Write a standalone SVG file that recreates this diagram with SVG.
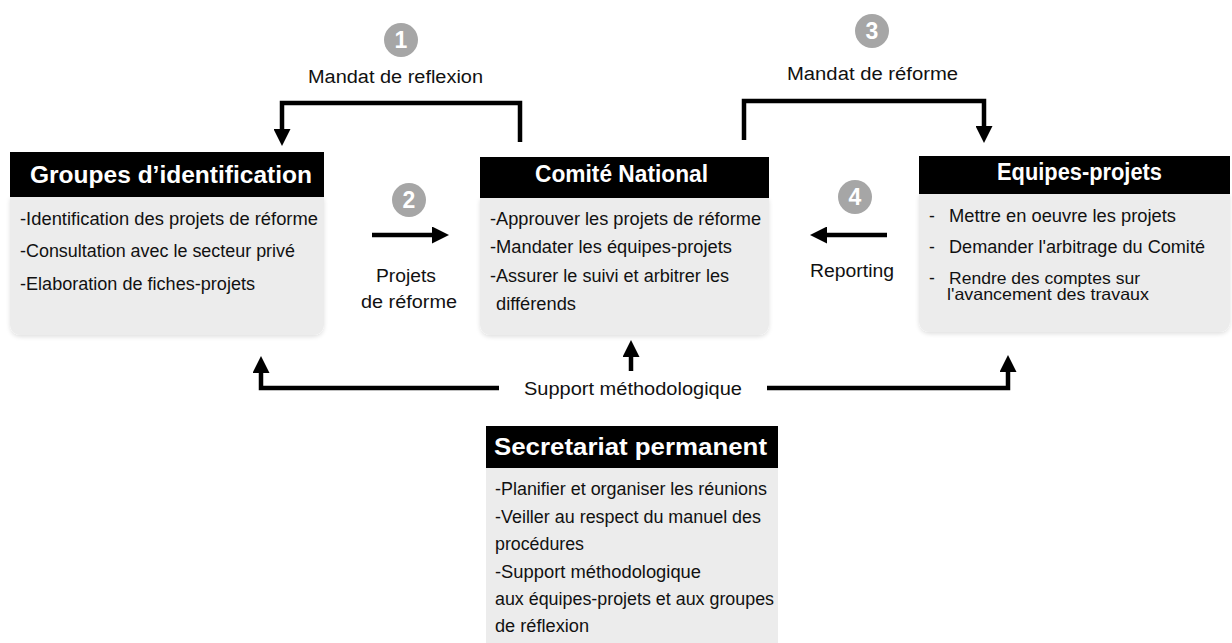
<svg xmlns="http://www.w3.org/2000/svg" width="1232" height="643" viewBox="0 0 1232 643">
<style>
  .hdr { fill: #000; }
  .body { fill: #ececec; }
  .htxt { font-family: "Liberation Sans", Arial, sans-serif; font-weight: bold; fill: #fff; font-size: 23px; }
  .btxt { font-family: "Liberation Sans", Arial, sans-serif; fill: #111; font-size: 17.5px; }
  .tight { font-size: 16.5px; }
  .lbl { font-family: "Liberation Sans", Arial, sans-serif; fill: #111; font-size: 18px; }
  .num { font-family: "Liberation Sans", Arial, sans-serif; font-weight: bold; fill: #fff; font-size: 23px; }
  .circ { fill: #a6a6a6; }
  .conn { fill: none; stroke: #000; stroke-width: 4.5; }
</style>
<defs>
  <marker id="ah" markerUnits="userSpaceOnUse" markerWidth="17" markerHeight="17" viewBox="0 0 17 17" refX="2" refY="8.5" orient="auto">
    <path d="M0,0 L17,8.5 L0,17 z" fill="#000"/>
  </marker>
  <filter id="sh" x="-5%" y="-5%" width="110%" height="115%">
    <feDropShadow dx="0" dy="2" stdDeviation="2" flood-color="#000" flood-opacity="0.12"/>
  </filter>
</defs>
<rect width="1232" height="643" fill="#fff"/>

<g id="groupes">
  <path class="body" filter="url(#sh)" d="M10,197 H324 V323 Q324,335 312,335 H22 Q10,335 10,323 Z"/>
  <rect class="hdr" x="10" y="152" width="314" height="45"/>
  <text class="htxt" x="30" y="183" textLength="282" lengthAdjust="spacingAndGlyphs">Groupes d’identification</text>
  <text class="btxt" x="20" y="225" textLength="298" lengthAdjust="spacingAndGlyphs">-Identification des projets de réforme</text>
  <text class="btxt" x="20" y="257" textLength="275" lengthAdjust="spacingAndGlyphs">-Consultation avec le secteur privé</text>
  <text class="btxt" x="20" y="290" textLength="235" lengthAdjust="spacingAndGlyphs">-Elaboration de fiches-projets</text>
</g>

<g id="comite">
  <path class="body" filter="url(#sh)" d="M480,198 H769 V323 Q769,335 757,335 H492 Q480,335 480,323 Z"/>
  <rect class="hdr" x="480" y="157" width="289" height="41"/>
  <text class="htxt" x="535" y="182" textLength="173" lengthAdjust="spacingAndGlyphs">Comité National</text>
  <text class="btxt" x="490" y="225" textLength="271" lengthAdjust="spacingAndGlyphs">-Approuver les projets de réforme</text>
  <text class="btxt" x="490" y="253" textLength="242" lengthAdjust="spacingAndGlyphs">-Mandater les équipes-projets</text>
  <text class="btxt" x="490" y="282" textLength="239" lengthAdjust="spacingAndGlyphs">-Assurer le suivi et arbitrer les</text>
  <text class="btxt" x="496" y="310" textLength="80" lengthAdjust="spacingAndGlyphs">différends</text>
</g>

<g id="equipes">
  <path class="body" filter="url(#sh)" d="M919,194 H1230 V320 Q1230,332 1218,332 H931 Q919,332 919,320 Z"/>
  <rect class="hdr" x="919" y="156" width="311" height="38"/>
  <text class="htxt" x="997" y="180" textLength="165" lengthAdjust="spacingAndGlyphs">Equipes-projets</text>
  <text class="btxt" x="929" y="222">-</text>
  <text class="btxt" x="949" y="222" textLength="227" lengthAdjust="spacingAndGlyphs">Mettre en oeuvre les projets</text>
  <text class="btxt" x="929" y="253">-</text>
  <text class="btxt" x="949" y="253" textLength="256" lengthAdjust="spacingAndGlyphs">Demander l'arbitrage du Comité</text>
  <text class="btxt" x="929" y="284">-</text>
  <text class="btxt tight" x="949" y="284" textLength="191" lengthAdjust="spacingAndGlyphs">Rendre des comptes sur</text>
  <text class="btxt tight" x="947" y="300" textLength="202" lengthAdjust="spacingAndGlyphs">l'avancement des travaux</text>
</g>

<g id="secretariat">
  <rect class="body" x="486" y="468" width="292" height="180"/>
  <rect class="hdr" x="486" y="426" width="292" height="42"/>
  <text class="htxt" x="494" y="455" textLength="273" lengthAdjust="spacingAndGlyphs">Secretariat permanent</text>
  <text class="btxt" x="495" y="495" textLength="272" lengthAdjust="spacingAndGlyphs">-Planifier et organiser les réunions</text>
  <text class="btxt" x="495" y="523" textLength="266" lengthAdjust="spacingAndGlyphs">-Veiller au respect du manuel des</text>
  <text class="btxt" x="495" y="550" textLength="89" lengthAdjust="spacingAndGlyphs">procédures</text>
  <text class="btxt" x="495" y="578" textLength="206" lengthAdjust="spacingAndGlyphs">-Support méthodologique</text>
  <text class="btxt" x="495" y="605" textLength="279" lengthAdjust="spacingAndGlyphs">aux équipes-projets et aux groupes</text>
  <text class="btxt" x="495" y="632" textLength="94" lengthAdjust="spacingAndGlyphs">de réflexion</text>
</g>

<g id="connectors">
  <path class="conn" d="M520,142 V103 H282 V131" marker-end="url(#ah)"/>
  <path class="conn" d="M744,140 V101 H984 V128" marker-end="url(#ah)"/>
  <path class="conn" d="M372,235 H434" marker-end="url(#ah)"/>
  <path class="conn" d="M887,235 H825" marker-end="url(#ah)"/>
  <path class="conn" d="M499,388 H261 V371" marker-end="url(#ah)"/>
  <path class="conn" d="M767,388 H1008 V370" marker-end="url(#ah)"/>
  <path class="conn" d="M631,371 V355" marker-end="url(#ah)"/>

  <circle class="circ" cx="401" cy="40" r="17"/>
  <text class="num" x="401" y="48" text-anchor="middle">1</text>
  <circle class="circ" cx="409" cy="200" r="17"/>
  <text class="num" x="409" y="208" text-anchor="middle">2</text>
  <circle class="circ" cx="872" cy="31" r="17"/>
  <text class="num" x="872" y="39" text-anchor="middle">3</text>
  <circle class="circ" cx="855" cy="197" r="17"/>
  <text class="num" x="855" y="205" text-anchor="middle">4</text>

  <text class="lbl" x="308" y="83" textLength="175" lengthAdjust="spacingAndGlyphs">Mandat de reflexion</text>
  <text class="lbl" x="787" y="80" textLength="171" lengthAdjust="spacingAndGlyphs">Mandat de réforme</text>
  <text class="lbl" x="376" y="282" textLength="60" lengthAdjust="spacingAndGlyphs">Projets</text>
  <text class="lbl" x="361" y="308" textLength="96" lengthAdjust="spacingAndGlyphs">de réforme</text>
  <text class="lbl" x="810" y="277" textLength="84" lengthAdjust="spacingAndGlyphs">Reporting</text>
  <text class="lbl" x="524" y="395" textLength="218" lengthAdjust="spacingAndGlyphs">Support méthodologique</text>
</g>
</svg>
